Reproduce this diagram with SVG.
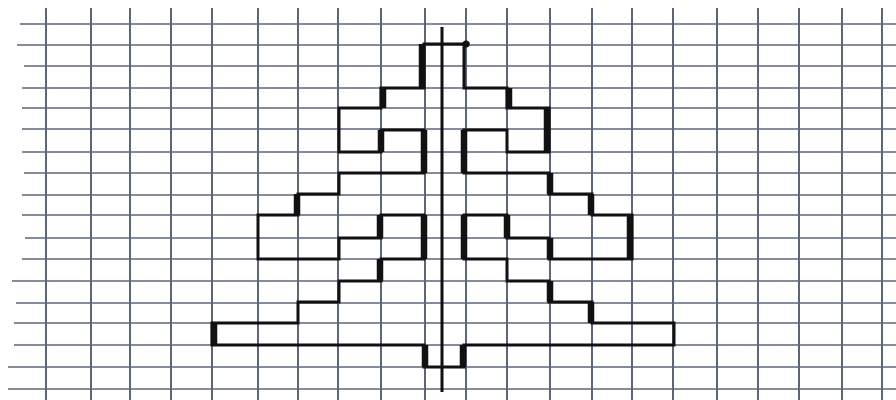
<svg xmlns="http://www.w3.org/2000/svg" width="896" height="400" viewBox="0 0 896 400">
<style>
.h{stroke:#5d6677;stroke-width:1.5}
.v{stroke:#5d6677;stroke-width:2}
.shape{fill:none;stroke:#111;stroke-width:3;stroke-linejoin:miter;stroke-linecap:square}
.thick{stroke:#111;stroke-width:6.5}
.axis{stroke:#111;stroke-width:3}
</style>
<rect width="896" height="400" fill="#ffffff"/>
<g id="grid">
<line class="h" x1="20" y1="24" x2="896" y2="24"/>
<line class="h" x1="17" y1="45" x2="896" y2="45"/>
<line class="h" x1="24" y1="66" x2="896" y2="66"/>
<line class="h" x1="22" y1="88" x2="896" y2="88"/>
<line class="h" x1="22" y1="108" x2="896" y2="108"/>
<line class="h" x1="22" y1="129" x2="896" y2="129"/>
<line class="h" x1="22" y1="152" x2="896" y2="152"/>
<line class="h" x1="24" y1="173" x2="896" y2="173"/>
<line class="h" x1="22" y1="195" x2="896" y2="195"/>
<line class="h" x1="22" y1="215" x2="896" y2="215"/>
<line class="h" x1="25" y1="238" x2="896" y2="238"/>
<line class="h" x1="22" y1="259" x2="896" y2="259"/>
<line class="h" x1="12" y1="281" x2="896" y2="281"/>
<line class="h" x1="16" y1="303" x2="896" y2="303"/>
<line class="h" x1="14" y1="323" x2="896" y2="323"/>
<line class="h" x1="14" y1="345" x2="896" y2="345"/>
<line class="h" x1="8" y1="367" x2="896" y2="367"/>
<line class="h" x1="8" y1="389" x2="896" y2="389"/>
<line class="v" x1="46" y1="8" x2="46" y2="400"/>
<line class="v" x1="91" y1="8" x2="91" y2="400"/>
<line class="v" x1="130" y1="8" x2="130" y2="400"/>
<line class="v" x1="171" y1="8" x2="171" y2="400"/>
<line class="v" x1="212" y1="8" x2="212" y2="400"/>
<line class="v" x1="258" y1="8" x2="258" y2="400"/>
<line class="v" x1="298" y1="8" x2="298" y2="400"/>
<line class="v" x1="338" y1="8" x2="338" y2="400"/>
<line class="v" x1="381" y1="8" x2="381" y2="400"/>
<line class="v" x1="425" y1="8" x2="425" y2="400"/>
<line class="v" x1="466" y1="8" x2="466" y2="400"/>
<line class="v" x1="507" y1="8" x2="507" y2="400"/>
<line class="v" x1="550" y1="8" x2="550" y2="400"/>
<line class="v" x1="592" y1="8" x2="592" y2="400"/>
<line class="v" x1="632" y1="8" x2="632" y2="400"/>
<line class="v" x1="673" y1="8" x2="673" y2="400"/>
<line class="v" x1="717" y1="8" x2="717" y2="400"/>
<line class="v" x1="758" y1="8" x2="758" y2="400"/>
<line class="v" x1="799" y1="8" x2="799" y2="400"/>
<line class="v" x1="842" y1="8" x2="842" y2="400"/>
<line class="v" x1="882" y1="8" x2="882" y2="400"/>
</g>
<g id="tree">
<path class="shape" d="M464 44 H424 V88 H381 V108 H339 V152 H381 V130 H424 V173 H339 V194 H298 V215 H258 V259 H339 V238 H381 V215 H424 V259 H381 V281 H339 V302 H298 V323 H212 V345 H424 V367 H464 V345 H674 V323 H592 V302 H549 V281 H507 V259 H464 V215 H507 V238 H549 V259 H632 V215 H592 V194 H549 V173 H464 V130 H507 V152 H549 V108 H507 V88 H464 Z"/>
<line class="shape" x1="464" y1="44" x2="468" y2="44"/>
<circle cx="466" cy="44" r="3.5" fill="#111"/>
<line class="thick" x1="422" y1="44" x2="422" y2="88"/>
<line class="thick" x1="383" y1="88" x2="383" y2="108"/>
<line class="thick" x1="509" y1="88" x2="509" y2="108"/>
<line class="thick" x1="547" y1="108" x2="547" y2="152"/>
<line class="thick" x1="381" y1="130" x2="381" y2="152"/>
<line class="thick" x1="424" y1="130" x2="424" y2="173"/>
<line class="thick" x1="464" y1="130" x2="464" y2="173"/>
<line class="thick" x1="550" y1="173" x2="550" y2="194"/>
<line class="thick" x1="297" y1="194" x2="297" y2="215"/>
<line class="thick" x1="591" y1="194" x2="591" y2="215"/>
<line class="thick" x1="630" y1="215" x2="630" y2="259"/>
<line class="thick" x1="380" y1="215" x2="380" y2="238"/>
<line class="thick" x1="507" y1="215" x2="507" y2="238"/>
<line class="thick" x1="424" y1="215" x2="424" y2="259"/>
<line class="thick" x1="464" y1="215" x2="464" y2="259"/>
<line class="thick" x1="550" y1="238" x2="550" y2="259"/>
<line class="thick" x1="380" y1="259" x2="380" y2="281"/>
<line class="thick" x1="550" y1="281" x2="550" y2="302"/>
<line class="thick" x1="591" y1="302" x2="591" y2="323"/>
<line class="thick" x1="214" y1="323" x2="214" y2="345"/>
<line class="thick" x1="425" y1="345" x2="425" y2="367"/>
<line class="thick" x1="463" y1="345" x2="463" y2="367"/>
</g>
<g id="axis">
<line class="axis" x1="442" y1="27" x2="442" y2="392"/>
</g>
</svg>
